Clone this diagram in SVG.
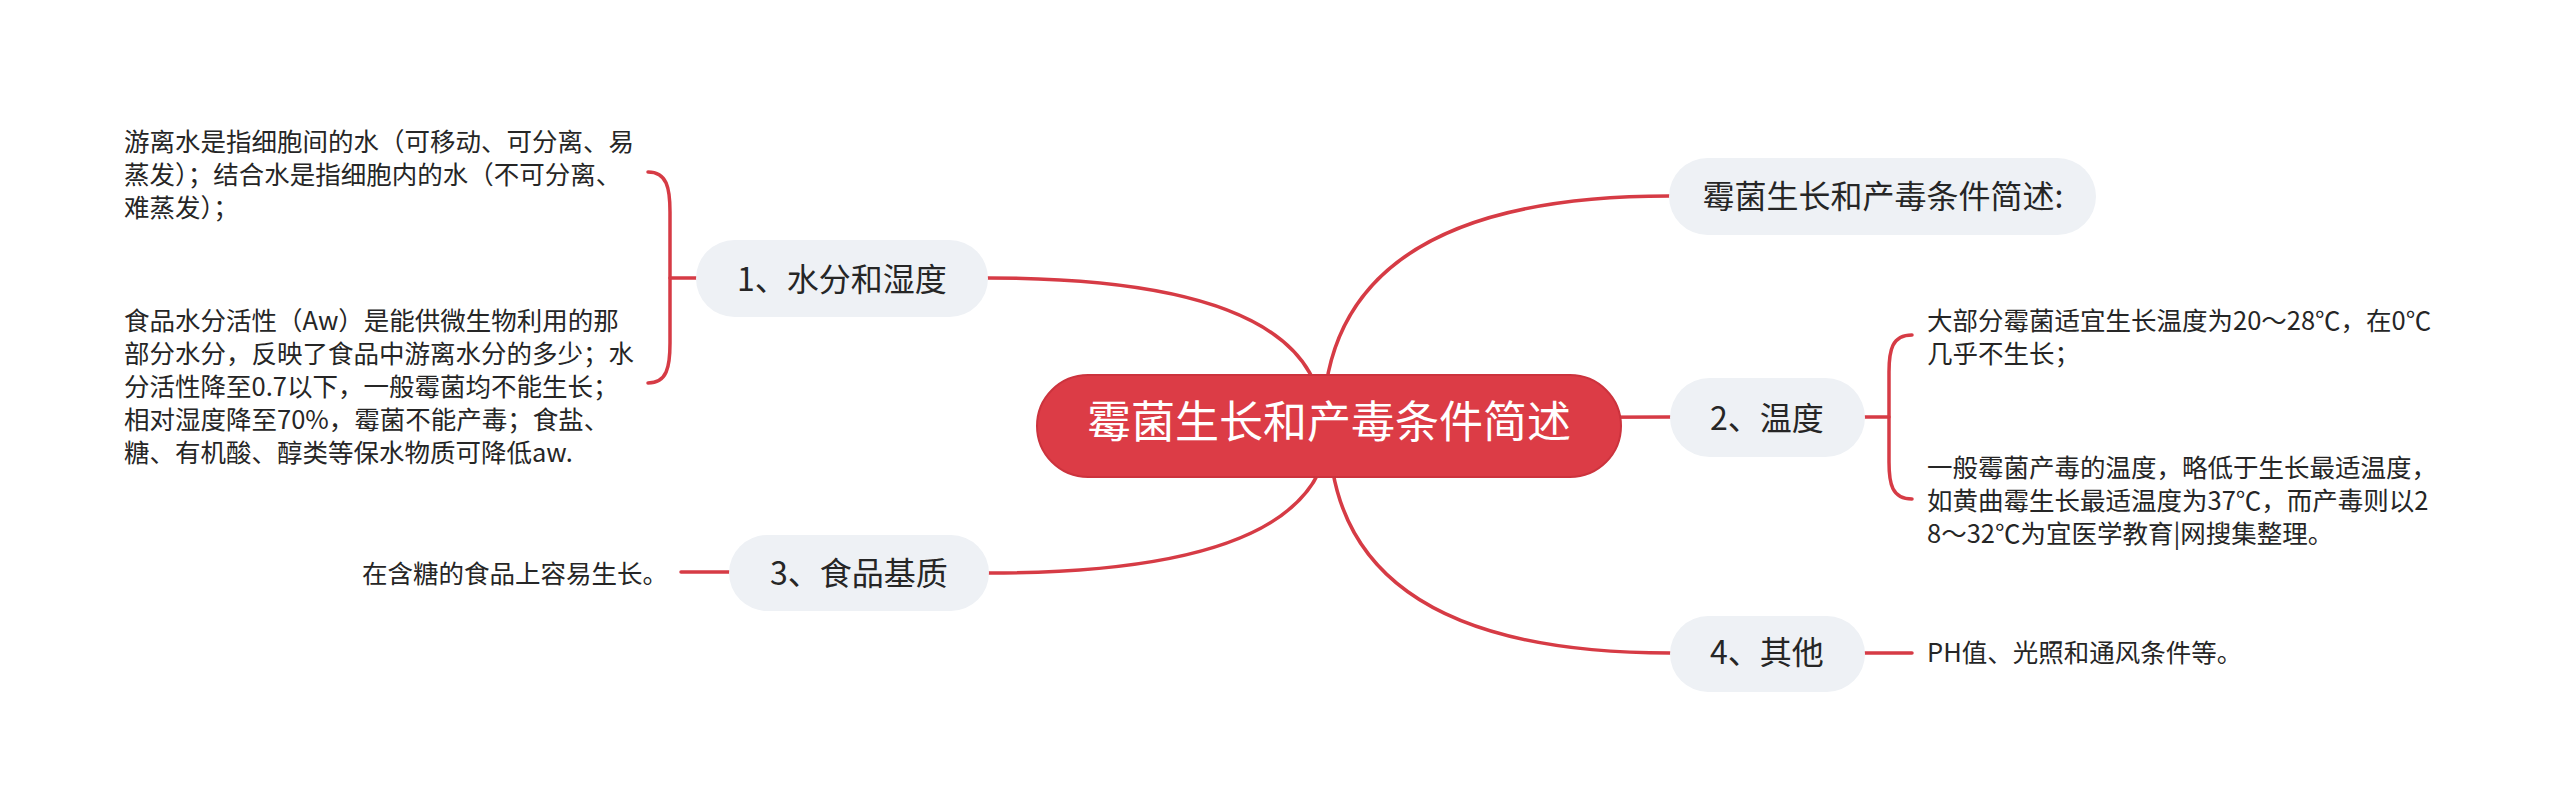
<svg xmlns="http://www.w3.org/2000/svg" width="2560" height="803" viewBox="0 0 2560 803">
<style>
.bg{fill:#ffffff}
.ln{fill:none;stroke:#d63b45;stroke-width:3.5;stroke-linecap:round}
.root{fill:#dc3c46;stroke:#cc333d;stroke-width:2}
.br{fill:#eef1f5}
.t-root{font-family:"Noto Sans CJK SC","Noto Sans",sans-serif;font-size:44px;fill:#ffffff;text-anchor:middle}
.t-br{font-family:"Noto Sans CJK SC","Noto Sans",sans-serif;font-size:32px;fill:#262626;text-anchor:middle}
.t-leaf{font-family:"Noto Sans CJK SC","Noto Sans",sans-serif;font-size:25.5px;fill:#262626}
</style>
<rect class="bg" x="0" y="0" width="2560" height="803"/>
<g id="connectors">
<path class="ln" d="M1323,426 Q1323,196 1669,196"/>
<path class="ln" d="M1323,426 Q1323,278 988,278"/>
<path class="ln" d="M1326,426 Q1326,417 1670,417"/>
<path class="ln" d="M1329,426 Q1329,573 989,573"/>
<path class="ln" d="M1329,426 Q1329,653 1670,653"/>
<path class="ln" d="M648,172 C667,172 670,188 670,212 L670,343 C670,367 667,383 648,383"/>
<path class="ln" d="M670,278 L696,278"/>
<path class="ln" d="M1912,335 C1892,335 1889,350 1889,372 L1889,462 C1889,484 1892,499 1912,499"/>
<path class="ln" d="M1865,417 L1889,417"/>
<path class="ln" d="M1865,653 L1912,653"/>
<path class="ln" d="M681,572 L729,572"/>
</g>
<g id="root">
<rect class="root" x="1037" y="375" width="584" height="102" rx="51"/>
<text class="t-root" x="1329" y="438">霉菌生长和产毒条件简述</text>
</g>
<g id="node-summary">
<rect class="br" x="1669" y="158" width="427" height="77" rx="38.5"/>
<text class="t-br" x="1883" y="208">霉菌生长和产毒条件简述:</text>
</g>
<g id="node-water">
<rect class="br" x="696" y="240" width="292" height="77" rx="38.5"/>
<text class="t-br" x="842" y="291">1、水分和湿度</text>
</g>
<g id="node-temp">
<rect class="br" x="1670" y="378" width="195" height="79" rx="39.5"/>
<text class="t-br" x="1767" y="430">2、温度</text>
</g>
<g id="node-food">
<rect class="br" x="729" y="535" width="260" height="76" rx="38"/>
<text class="t-br" x="859" y="585">3、食品基质</text>
</g>
<g id="node-other">
<rect class="br" x="1670" y="616" width="195" height="76" rx="38"/>
<text class="t-br" x="1767" y="664">4、其他</text>
</g>
<g id="leaf-water1">
<text class="t-leaf" x="124" y="151">游离水是指细胞间的水（可移动、可分离、易</text>
<text class="t-leaf" x="124" y="184">蒸发）；结合水是指细胞内的水（不可分离、</text>
<text class="t-leaf" x="124" y="217">难蒸发）；</text>
</g>
<g id="leaf-water2">
<text class="t-leaf" x="124" y="330">食品水分活性（Aw）是能供微生物利用的那</text>
<text class="t-leaf" x="124" y="363">部分水分，反映了食品中游离水分的多少；水</text>
<text class="t-leaf" x="124" y="396">分活性降至0.7以下，一般霉菌均不能生长；</text>
<text class="t-leaf" x="124" y="429">相对湿度降至70%，霉菌不能产毒；食盐、</text>
<text class="t-leaf" x="124" y="462">糖、有机酸、醇类等保水物质可降低aw.</text>
</g>
<g id="leaf-temp1">
<text class="t-leaf" x="1927" y="330">大部分霉菌适宜生长温度为20～28℃，在0℃</text>
<text class="t-leaf" x="1927" y="363">几乎不生长；</text>
</g>
<g id="leaf-temp2">
<text class="t-leaf" x="1927" y="477">一般霉菌产毒的温度，略低于生长最适温度，</text>
<text class="t-leaf" x="1927" y="510">如黄曲霉生长最适温度为37℃，而产毒则以2</text>
<text class="t-leaf" x="1927" y="543">8～32℃为宜医学教育|网搜集整理。</text>
</g>
<g id="leaf-food">
<text class="t-leaf" x="362" y="583">在含糖的食品上容易生长。</text>
</g>
<g id="leaf-other">
<text class="t-leaf" x="1927" y="662">PH值、光照和通风条件等。</text>
</g>
</svg>
